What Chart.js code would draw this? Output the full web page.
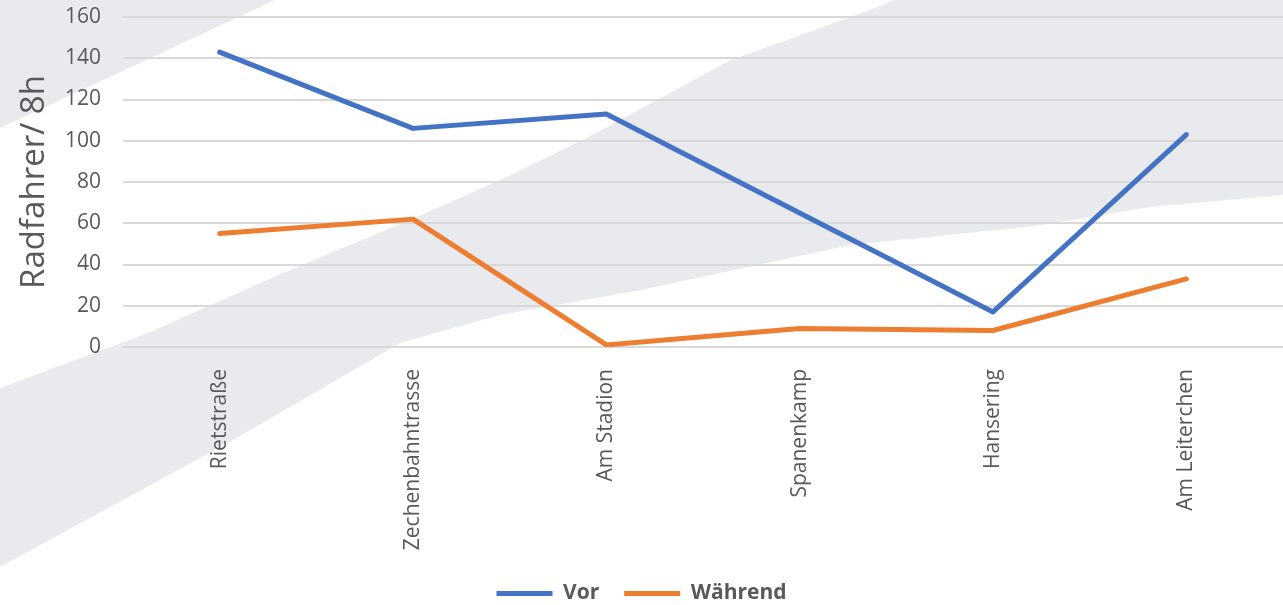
<!DOCTYPE html>
<html>
<head>
<meta charset="utf-8">
<script src="https://cdn.jsdelivr.net/npm/chart.js@4"></script>
<style>
  html, body { margin: 0; padding: 0; background: #fff; }
  #wrap { width: 1283px; height: 605px; }
</style>
</head>
<body>
<div id="wrap"><canvas id="lineChart" width="1283" height="605"></canvas></div>
<script>
const categories = ["Rietstraße", "Zechenbahntrasse", "Am Stadion", "Spanenkamp", "Hansering", "Am Leiterchen"];
const vor = [143, 106, 113, 65, 17, 103];
const waehrend = [55, 62, 1, 9, 8, 33];
const yTicks = [0, 20, 40, 60, 80, 100, 120, 140, 160];
const seriesNames = ["Vor", "Während"];
const yTitle = "Radfahrer/ 8h";

const textColor = "#595959";
const fontFamily = "'Open Sans', 'Noto Sans', sans-serif";

// grey diagonal shapes behind the chart
const backdrop = {
    id: "backdrop",
    beforeDraw(chart) {
        const ctx = chart.ctx;
        ctx.save();
        ctx.fillStyle = "#e9eaee";
        ctx.beginPath();
        ctx.moveTo(0, 0);
        ctx.lineTo(275, 0);
        ctx.lineTo(0, 128);
        ctx.closePath();
        ctx.fill();
        ctx.beginPath();
        ctx.moveTo(0, 388);
        ctx.lineTo(148, 333);
        ctx.lineTo(283, 273);
        ctx.lineTo(417, 217);
        ctx.lineTo(507, 177);
        ctx.lineTo(596, 133);
        ctx.lineTo(731, 60);
        ctx.lineTo(851, 17);
        ctx.lineTo(895, 0);
        ctx.lineTo(1283, 0);
        ctx.lineTo(1283, 195);
        ctx.lineTo(1150, 207);
        ctx.lineTo(1035, 226);
        ctx.lineTo(851, 245);
        ctx.lineTo(641, 290);
        ctx.lineTo(500, 315);
        ctx.lineTo(400, 343);
        ctx.lineTo(233, 440);
        ctx.lineTo(0, 567);
        ctx.closePath();
        ctx.fill();
        ctx.restore();
    }
};

const ctx = document.getElementById("lineChart").getContext("2d");
new Chart(ctx, {
    type: "line",
    data: {
        labels: categories,
        datasets: [
            {
                label: seriesNames[0],
                data: vor,
                borderColor: "#4472c4",
                backgroundColor: "#4472c4",
                borderWidth: 5,
                borderCapStyle: "round",
                borderJoinStyle: "round",
                pointRadius: 0,
                tension: 0,
            },
            {
                label: seriesNames[1],
                data: waehrend,
                borderColor: "#ed7d31",
                backgroundColor: "#ed7d31",
                borderWidth: 5,
                borderCapStyle: "round",
                borderJoinStyle: "round",
                pointRadius: 0,
                tension: 0,
            },
        ],
    },
    options: {
        responsive: false,
        animation: false,
        layout: { padding: { top: 17, right: 0, bottom: -9, left: 0 } },
        plugins: {
            tooltip: { enabled: false },
            legend: {
                position: "bottom",
                labels: {
                    usePointStyle: true,
                    pointStyle: "line",
                    pointStyleWidth: 56,
                    boxHeight: 21,
                    padding: 25,
                    color: textColor,
                    font: { family: fontFamily, size: 21, weight: "bold" },
                },
            },
        },
        scales: {
            x: {
                offset: true,
                grid: { display: false },
                border: { display: false },
                afterFit: (scale) => {
                    scale.height = 211;
                },
                ticks: {
                    color: textColor,
                    font: { family: fontFamily, size: 21 },
                    minRotation: 90,
                    maxRotation: 90,
                    padding: 14,
                },
            },
            y: {
                min: 0,
                max: 160,
                afterBuildTicks: (scale) => {
                    scale.ticks = yTicks.map((v) => ({ value: v }));
                },
                afterFit: (scale) => {
                    scale.width = 123;
                    scale.paddingTop = 0;
                    scale.paddingBottom = 0;
                },
                grid: { color: "#d9d9d9", lineWidth: 2, drawTicks: false },
                border: { display: false },
                ticks: {
                    color: textColor,
                    font: { family: fontFamily, size: 21 },
                    padding: 22,
                },
                title: {
                    display: true,
                    text: yTitle,
                    color: textColor,
                    font: { family: fontFamily, size: 33 },
                    padding: { top: 15, bottom: 0 },
                },
            },
        },
    },
    plugins: [backdrop],
});
</script>
</body>
</html>
